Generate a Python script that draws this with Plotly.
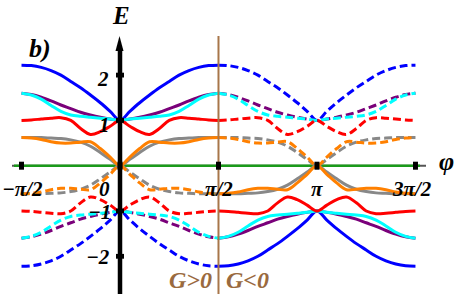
import math
import plotly.graph_objects as go

# sample positions (fraction of pi/2 away from the band-touching point)
t = [0.0, 0.1, 0.2, 0.3, 0.4, 0.5, 0.6, 0.7, 0.8, 0.9, 1.0]

# upper bands (E>0)
blue_up   = [1.00, 1.20, 1.39, 1.56, 1.72, 1.86, 2.00, 2.10, 2.17, 2.21, 2.22]
purple_up = [1.00, 1.03, 1.07, 1.12, 1.18, 1.26, 1.34, 1.43, 1.51, 1.57, 1.60]
cyan_up   = [1.00, 1.03, 1.05, 1.07, 1.09, 1.12, 1.20, 1.33, 1.47, 1.56, 1.60]
red_up    = [1.00, 0.87, 0.75, 0.69, 0.82, 1.00, 1.06, 1.05, 1.03, 1.01, 1.00]
gray_up   = [0.00, 0.14, 0.29, 0.43, 0.52, 0.57, 0.60, 0.61, 0.62, 0.62, 0.62]
orange_up = [0.00, 0.19, 0.38, 0.53, 0.52, 0.50, 0.50, 0.53, 0.58, 0.61, 0.62]

# lower bands (E<0)
blue_dn   = [-1.00, -1.20, -1.39, -1.56, -1.72, -1.86, -2.00, -2.10, -2.17, -2.21, -2.22]
purple_dn = [-1.00, -1.03, -1.07, -1.12, -1.18, -1.26, -1.34, -1.43, -1.51, -1.57, -1.60]
cyan_dn   = [-1.00, -1.03, -1.05, -1.07, -1.09, -1.12, -1.20, -1.33, -1.47, -1.56, -1.60]
red_dn    = [-1.00, -0.87, -0.75, -0.69, -0.82, -1.00, -1.06, -1.05, -1.03, -1.01, -1.00]
gray_dn   = [0.00, -0.14, -0.29, -0.43, -0.52, -0.57, -0.60, -0.61, -0.62, -0.62, -0.62]
orange_dn = [0.00, -0.19, -0.38, -0.53, -0.52, -0.50, -0.50, -0.53, -0.58, -0.61, -0.62]

colors = {"blue": "#0000ff", "purple": "#7a007a", "cyan": "#00ffff",
          "red": "#ff0000", "gray": "#888888", "orange": "#ff8000"}
order = ["blue", "purple", "cyan", "red", "gray", "orange"]
up = {"blue": blue_up, "purple": purple_up, "cyan": cyan_up, "red": red_up,
      "gray": gray_up, "orange": orange_up}
dn = {"blue": blue_dn, "purple": purple_dn, "cyan": cyan_dn, "red": red_dn,
      "gray": gray_dn, "orange": orange_dn}

xticks = [-math.pi / 2, 0, math.pi / 2, math.pi, 3 * math.pi / 2]
xlabels = ["\u2212\u03c0/2", "0", "\u03c0/2", "\u03c0", "3\u03c0/2"]
yticks = [2, 1, -1, -2]
ylabels = ["2", "1", "\u22121", "\u22122"]

H = math.pi / 2


def segment(center, vals):
    xs, ys = [], []
    for ti, v in zip(reversed(t), reversed(vals)):
        xs.append(center - H * ti)
        ys.append(v)
    for ti, v in zip(t[1:], vals[1:]):
        xs.append(center + H * ti)
        ys.append(v)
    return xs, ys


# pixel <-> data helpers for decorations
XS, X0 = 62.7, 120.0
YS, Y0 = 45.3, 165.7


def px2x(p):
    return (p - X0) / XS


def py2y(p):
    return (Y0 - p) / YS


fig = go.Figure()
for c in order:
    for center, vals, dash in [(0.0, up[c], "solid"), (math.pi, up[c], "8px,4px"),
                               (0.0, dn[c], "8px,4px"), (math.pi, dn[c], "solid")]:
        xs, ys = segment(center, vals)
        fig.add_trace(go.Scatter(x=xs, y=ys, mode="lines",
                                 line=dict(color=colors[c], width=3, dash=dash,
                                           shape="spline", smoothing=1.0),
                                 hoverinfo="skip", showlegend=False))

shapes = []
# x axis base and green zero line
shapes.append(dict(type="line", x0=px2x(12), x1=px2x(426), y0=0, y1=0,
                   line=dict(color="#555555", width=2), layer="below"))
shapes.append(dict(type="line", x0=px2x(14), x1=px2x(420), y0=0, y1=0,
                   line=dict(color="#1a9a1a", width=2.5), layer="below"))
# brown divider
shapes.append(dict(type="line", x0=H, x1=H, y0=py2y(36), y1=py2y(300),
                   line=dict(color="#a8764a", width=2), layer="above"))
# y axis
shapes.append(dict(type="line", x0=0, x1=0, y0=py2y(300), y1=py2y(48),
                   line=dict(color="black", width=4.5), layer="above"))
shapes.append(dict(type="path",
                   path=f"M {px2x(115.5)} {py2y(51)} L {px2x(123.5)} {py2y(51)} L {px2x(119.5)} {py2y(36)} Z",
                   fillcolor="black", line=dict(color="black", width=0), layer="above"))
# y ticks
for yv in yticks:
    shapes.append(dict(type="rect", x0=px2x(116), x1=px2x(124),
                       y0=yv - 2.4 / YS, y1=yv + 2.4 / YS,
                       fillcolor="black", line=dict(width=0), layer="above"))
# x ticks
for xv in xticks:
    shapes.append(dict(type="rect", x0=xv - 2.5 / XS, x1=xv + 2.5 / XS,
                       y0=-4 / YS, y1=4 / YS,
                       fillcolor="black", line=dict(width=0), layer="above"))

font = dict(family="Liberation Serif", size=21, color="black")
ann = []
xlabel_px = [22, 104, 219, 317, 412]
for xv, lab, p in zip(xticks, xlabels, xlabel_px):
    ann.append(dict(x=px2x(p), y=py2y(189), text=f"<b><i>{lab}</i></b>",
                    showarrow=False, font=font, xanchor="center", yanchor="middle"))
ylabel_pos = [(103, 79), (104, 125), (99, 212), (98, 257)]
for lab, (pxv, pyv) in zip(ylabels, ylabel_pos):
    ann.append(dict(x=px2x(pxv), y=py2y(pyv), text=f"<b><i>{lab}</i></b>",
                    showarrow=False, font=font, xanchor="center", yanchor="middle"))
ann.append(dict(x=px2x(121), y=py2y(15), text="<b><i>E</i></b>", showarrow=False,
                font=dict(family="Liberation Serif", size=25, color="black")))
ann.append(dict(x=px2x(446), y=py2y(161), text="<b><i>\u03c6</i></b>", showarrow=False,
                font=dict(family="Liberation Serif", size=26, color="black")))
ann.append(dict(x=px2x(40), y=py2y(48), text="<b><i>b)</i></b>", showarrow=False,
                font=dict(family="Liberation Serif", size=26, color="black")))
gfont = dict(family="Liberation Serif", size=24, color="#9a6a3e")
ann.append(dict(x=px2x(190), y=py2y(280), text="<b><i>G&gt;0</i></b>", showarrow=False, font=gfont))
ann.append(dict(x=px2x(247), y=py2y(280), text="<b><i>G&lt;0</i></b>", showarrow=False, font=gfont))

fig.update_layout(
    width=457, height=294, autosize=False,
    margin=dict(l=0, r=0, t=0, b=0),
    paper_bgcolor="white", plot_bgcolor="white",
    xaxis=dict(range=[px2x(0), px2x(457)], visible=False, showgrid=False, zeroline=False),
    yaxis=dict(range=[py2y(294), py2y(0)], visible=False, showgrid=False, zeroline=False),
    shapes=shapes, annotations=ann, showlegend=False,
)
fig.write_html("out.html", config={"displayModeBar": False},
               post_script="document.body.style.margin='0px';document.body.style.overflow='hidden';")
